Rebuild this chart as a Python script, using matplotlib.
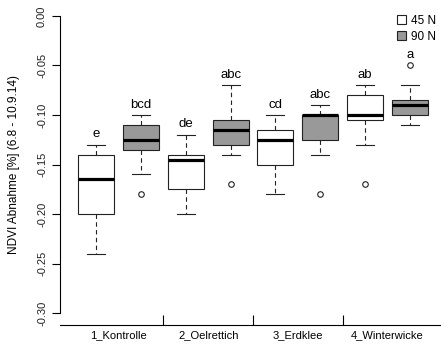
import matplotlib
matplotlib.use("Agg")
import matplotlib.pyplot as plt
from matplotlib.patches import Patch

plt.rcParams['font.family'] = ['Liberation Sans', 'DejaVu Sans']

# Gruppen und Legende
groups = ["1_Kontrolle", "2_Oelrettich", "3_Erdklee", "4_Winterwicke"]
series = ["45 N", "90 N"]
fills = {"45 N": "white", "90 N": "#999999"}

# Boxplot-Kennwerte je Serie (Reihenfolge wie groups)
lo_45 = [-0.240, -0.200, -0.180, -0.130]
q1_45 = [-0.200, -0.175, -0.150, -0.105]
med_45 = [-0.165, -0.145, -0.125, -0.100]
q3_45 = [-0.140, -0.140, -0.115, -0.080]
hi_45 = [-0.130, -0.120, -0.100, -0.070]
out_45 = [[], [], [], [-0.170]]
let_45 = ["e", "de", "cd", "ab"]

lo_90 = [-0.160, -0.140, -0.140, -0.110]
q1_90 = [-0.135, -0.130, -0.125, -0.100]
med_90 = [-0.125, -0.115, -0.100, -0.090]
q3_90 = [-0.110, -0.105, -0.100, -0.085]
hi_90 = [-0.100, -0.070, -0.090, -0.070]
out_90 = [[-0.180], [-0.170], [-0.180], [-0.050]]
let_90 = ["bcd", "abc", "abc", "a"]

yticks = [0.00, -0.05, -0.10, -0.15, -0.20, -0.25, -0.30]


def make_stats(lo, q1, med, q3, hi, out):
    return [dict(whislo=a, q1=b, med=c, q3=d, whishi=e, fliers=f)
            for a, b, c, d, e, f in zip(lo, q1, med, q3, hi, out)]


st45 = make_stats(lo_45, q1_45, med_45, q3_45, hi_45, out_45)
st90 = make_stats(lo_90, q1_90, med_90, q3_90, hi_90, out_90)

fig = plt.figure(figsize=(4.41, 3.47), dpi=100)
ax = fig.add_axes([59.5 / 441, 22 / 347, 387 / 441, 321 / 347])

pos45 = [1 + 2 * i for i in range(len(groups))]
pos90 = [2 + 2 * i for i in range(len(groups))]

edge = "#222222"
common = dict(widths=0.8, patch_artist=True,
              whiskerprops=dict(color=edge, lw=0.8, linestyle=(0, (4, 3))),
              capprops=dict(color=edge, lw=0.8),
              medianprops=dict(color="black", lw=2.3, solid_capstyle="butt"),
              flierprops=dict(marker="o", markersize=4, markerfacecolor="none",
                              markeredgecolor=edge, markeredgewidth=0.8))

for stats, pos, key in [(st45, pos45, "45 N"), (st90, pos90, "90 N")]:
    b = ax.bxp(stats, positions=pos, manage_ticks=False,
               boxprops=dict(facecolor=fills[key], edgecolor=edge, lw=0.8),
               **common)
    for c in b["caps"]:
        x0, x1 = c.get_xdata()
        m = (x0 + x1) / 2
        c.set_xdata([m - 0.2, m + 0.2])

# Buchstaben der Signifikanzgruppen
for stats, pos, letters in [(st45, pos45, let_45), (st90, pos90, let_90)]:
    for s, p, t in zip(stats, pos, letters):
        top = max([s["whishi"]] + list(s["fliers"]))
        ax.text(p, top + 0.0105, t, ha="center", va="center", fontsize=9.5)

ax.set_xlim(0.18, 8.82)
ax.set_ylim(-0.312, 0.012)

for sp in ["top", "right"]:
    ax.spines[sp].set_visible(False)
ax.spines["left"].set_bounds(-0.30, 0.0)
ax.spines["left"].set_linewidth(0.8)
ax.spines["bottom"].set_linewidth(0.8)

ax.set_yticks(yticks)
ax.set_yticklabels([f"{v:.2f}" for v in yticks], rotation=90, va="center",
                   fontsize=8, color="#222222")
ax.tick_params(axis="y", length=6, width=0.8, pad=3)

ax.set_xticks([2.5, 4.5, 6.5])
ax.set_xticklabels([])
ax.tick_params(axis="x", which="major", direction="in", length=7, width=0.8)
ax.set_xticks([1.5, 3.5, 5.5, 7.5], minor=True)
ax.set_xticklabels(groups, minor=True, fontsize=8)
ax.tick_params(axis="x", which="minor", length=0, pad=4)

ax.set_ylabel("NDVI Abnahme [%] (6.8 - 10.9.14)", fontsize=8.5, labelpad=12)

handles = [Patch(facecolor=fills[k], edgecolor=edge, lw=0.8, label=k) for k in series]
fig.legend(handles=handles, loc="upper left", bbox_to_anchor=(397 / 441, 1 - 15 / 347),
           frameon=False, fontsize=8.5, handlelength=0.8, handleheight=0.8,
           handletextpad=0.4, labelspacing=0.3, borderaxespad=0, borderpad=0)

fig.savefig("out.png", dpi=100)
